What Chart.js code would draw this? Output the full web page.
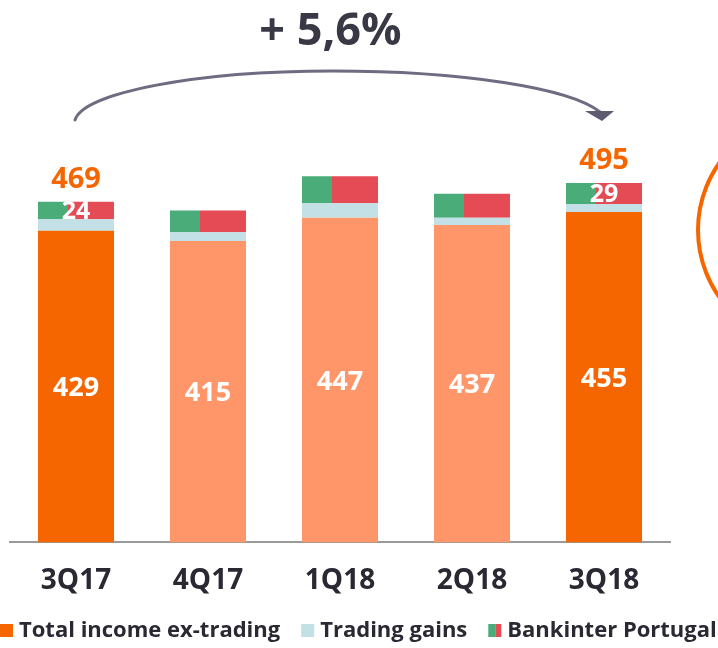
<!DOCTYPE html>
<html>
<head>
<meta charset="utf-8">
<script src="https://cdn.jsdelivr.net/npm/chart.js@4.4.1/dist/chart.umd.min.js"></script>
<style>
  html, body { margin: 0; padding: 0; background: #fff; }
  #wrap { width: 718px; height: 648px; }
</style>
</head>
<body>
<div id="wrap"><canvas id="incomeChart" width="718" height="648"></canvas></div>
<script>
// quarters on the x axis
const quarters = ['3Q17', '4Q17', '1Q18', '2Q18', '3Q18'];
// stacked series (EUR m)
const incomeExTrading = [429, 415, 447, 437, 455];
const tradingGains = [16, 12, 20, 10, 11];
const bankinterPortugal = [24, 30, 37, 33, 29];
// quarters with highlighted bars and labels
const highlighted = [true, false, false, false, true];
const growthLabel = '+ 5,6%';

const FONT = '"Open Sans", "DejaVu Sans", sans-serif';
const ORANGE = '#F56600';
const SALMON = '#FF9669';
const LIGHTBLUE = '#C2E0E5';
const GREEN = '#4AAD79';
const RED = '#E54B55';
const DARK = '#2A2933';
const BAR_PCT = 0.576;

// left green / right red fill for the Bankinter Portugal segment
const splitFill = (ctx) => {
   const chart = ctx.chart;
   if (!chart.chartArea || ctx.dataIndex === undefined) return GREEN;
   const xs = chart.scales.x;
   const cx = xs.getPixelForValue(ctx.dataIndex);
   const w = xs.width / quarters.length * BAR_PCT;
   const g = chart.ctx.createLinearGradient(cx - w / 2, 0, cx + w / 2, 0);
   g.addColorStop(0, GREEN);
   g.addColorStop(0.4, GREEN);
   g.addColorStop(0.4, RED);
   g.addColorStop(1, RED);
   return g;
}

const labelsPlugin = {
   id: 'labelsPlugin',
   beforeDraw(chart) {
       const c = chart.ctx;
       // orange ring cut by the right edge
       c.save();
       c.strokeStyle = ORANGE;
       c.lineWidth = 4;
       c.beginPath();
       c.arc(814, 230, 116, 0, Math.PI * 2);
       c.stroke();
       c.restore();
   },
   afterDatasetsDraw(chart) {
       const c = chart.ctx;
       const xs = chart.scales.x;
       c.save();
       c.textAlign = 'center';
       c.textBaseline = 'middle';

       const base = chart.getDatasetMeta(0).data;
       c.fillStyle = '#fff';
       c.font = 'bold 27px ' + FONT;
       base.forEach((bar, i) => {
           c.fillText(String(incomeExTrading[i]), bar.x, (bar.y + bar.base) / 2 + 2);
       });

       const top = chart.getDatasetMeta(2).data;
       top.forEach((bar, i) => {
           if (!highlighted[i]) return;
           c.fillStyle = '#fff';
           c.font = 'bold 25px ' + FONT;
           c.fillText(String(bankinterPortugal[i]), bar.x, (bar.y + bar.base) / 2 + 1);
           const total = incomeExTrading[i] + tradingGains[i] + bankinterPortugal[i];
           c.fillStyle = ORANGE;
           c.font = 'bold 29px ' + FONT;
           c.fillText(String(total), bar.x, bar.y - 22);
       });

       // growth arrow from first to last quarter
       const x0 = xs.getPixelForValue(0) - 1;
       const x1 = xs.getPixelForValue(quarters.length - 1) - 4;
       const mid = (x0 + x1) / 2 - 5;
       c.strokeStyle = '#6F6B80';
       c.lineWidth = 3;
       c.lineCap = 'round';
       c.beginPath();
       c.moveTo(x0, 120);
       c.bezierCurveTo(x0 + 8, 93, x0 + 120, 71, mid, 71);
       c.bezierCurveTo(mid + 130, 71, x1 - 30, 88, x1, 112);
       c.stroke();
       c.fillStyle = '#5E5A70';
       c.beginPath();
       c.moveTo(x1 - 15, 111);
       c.lineTo(x1 + 14, 111);
       c.lineTo(x1 + 2, 121);
       c.closePath();
       c.fill();

       c.fillStyle = '#393845';
       c.font = 'bold 45px ' + FONT;
       c.fillText(growthLabel, mid - 2, 32);
       c.restore();
   },
   afterDraw(chart) {
       // legend row along the bottom edge
       const c = chart.ctx;
       c.save();
       c.font = 'bold 22px ' + FONT;
       c.textAlign = 'left';
       c.textBaseline = 'middle';
       const y = 631;
       let x = 0;
       chart.data.datasets.forEach((ds, i) => {
           if (i === 2) {
               c.fillStyle = GREEN;
               c.fillRect(x, y - 7, 7, 13);
               c.fillStyle = RED;
               c.fillRect(x + 7, y - 7, 6, 13);
           } else {
               c.fillStyle = i === 0 ? ORANGE : ds.backgroundColor;
               c.fillRect(x, y - 7, 13, 13);
           }
           x += 19;
           c.fillStyle = DARK;
           c.fillText(ds.label, x, y);
           x += c.measureText(ds.label).width + 21;
       });
       c.restore();
   }
};

document.addEventListener('DOMContentLoaded', () => {
   const ctx = document.getElementById('incomeChart');
   new Chart(ctx, {
       type: 'bar',
       data: {
           labels: quarters,
           datasets: [{
               label: 'Total income ex-trading',
               data: incomeExTrading,
               backgroundColor: highlighted.map(h => h ? ORANGE : SALMON)
           }, {
               label: 'Trading gains',
               data: tradingGains,
               backgroundColor: LIGHTBLUE
           }, {
               label: 'Bankinter Portugal',
               data: bankinterPortugal,
               backgroundColor: splitFill
           }]
       },
       options: {
           responsive: false,
           animation: false,
           events: [],
           datasets: {
               bar: { categoryPercentage: 1, barPercentage: BAR_PCT, borderWidth: 0 }
           },
           layout: { padding: { top: 34, bottom: 36, left: 0, right: 0 } },
           scales: {
               x: {
                   stacked: true,
                   grid: { display: false },
                   border: { display: true, color: '#9A9A9A', width: 2 },
                   ticks: {
                       color: DARK,
                       padding: 14,
                       font: { family: FONT, size: 28, weight: 'bold' }
                   }
               },
               y: {
                   stacked: true,
                   min: 0,
                   max: 700,
                   grid: { display: false },
                   border: { display: false },
                   ticks: { display: false },
                   afterFit: (s) => { s.width = 10; }
               },
               yRight: {
                   position: 'right',
                   grid: { display: false },
                   border: { display: false },
                   ticks: { display: false },
                   afterFit: (s) => { s.width = 48; }
               }
           },
           plugins: {
               title: { display: false },
               tooltip: { enabled: false },
               legend: { display: false }
           }
       },
       plugins: [labelsPlugin]
   });
});
</script>
</body>
</html>
